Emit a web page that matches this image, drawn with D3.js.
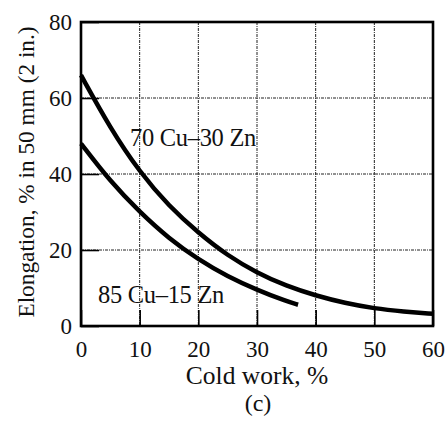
<!DOCTYPE html>
<html>
<head>
<meta charset="utf-8">
<script src="https://cdn.jsdelivr.net/npm/d3@7"></script>
<style>
  body { margin: 0; background: #fff; }
  text { font-family: "Liberation Serif", "DejaVu Serif", serif; fill: #111; }
</style>
</head>
<body>
<svg width="447" height="421"></svg>
<script>
// data
var coldWork = [0, 5, 10, 15, 20, 25, 30, 35, 40, 45, 50, 55, 60];
var brass7030 = [66, 52, 40.5, 31.5, 24.5, 18.5, 14, 10.5, 8, 6, 4.6, 3.8, 3.2];
var coldWork8515 = [0, 5, 10, 15, 20, 25, 30, 35, 37];
var brass8515 = [48, 38, 30, 23, 17.5, 13, 9.5, 6.5, 5.6];
var xTicks = [0, 10, 20, 30, 40, 50, 60];
var yTicks = [0, 20, 40, 60, 80];

var svg = d3.select("svg");
var margin = {left: 81, right: 14, top: 22, bottom: 95};
var width = 447 - margin.left - margin.right,
  height = 421 - margin.top - margin.bottom;

var x = d3.scaleLinear().domain([0, 60]).range([0, width]);
var y = d3.scaleLinear().domain([0, 80]).range([height, 0]);

var g = svg.append("g").attr("transform", "translate(" + margin.left + "," + margin.top + ")");

// dotted grid
g.selectAll(".vgrid").data(xTicks.slice(1, -1)).enter().append("line")
  .attr("x1", d => x(d)).attr("x2", d => x(d))
  .attr("y1", 0).attr("y2", height)
  .attr("stroke", "#222").attr("stroke-width", 1)
  .attr("stroke-dasharray", "3,1,1,1");
g.selectAll(".hgrid").data(yTicks.slice(1, -1)).enter().append("line")
  .attr("x1", 0).attr("x2", width)
  .attr("y1", d => y(d)).attr("y2", d => y(d))
  .attr("stroke", "#222").attr("stroke-width", 1)
  .attr("stroke-dasharray", "3,1,1,1");

// inward ticks
g.append("g").attr("transform", "translate(0," + height + ")")
  .call(d3.axisBottom(x).tickValues(xTicks).tickSize(-16).tickPadding(15).tickFormat(d3.format("d")))
  .call(a => a.select(".domain").remove())
  .call(a => a.selectAll("line").attr("stroke", "#000").attr("stroke-width", 1.6))
  .call(a => a.selectAll("text").attr("font-size", 23).attr("font-family", "Liberation Serif").attr("fill", "#111"));

g.append("g")
  .call(d3.axisLeft(y).tickValues(yTicks).tickSize(-18).tickPadding(9).tickFormat(d3.format("d")))
  .call(a => a.select(".domain").remove())
  .call(a => a.selectAll("line").attr("stroke", "#000").attr("stroke-width", 1.6))
  .call(a => a.selectAll("text").attr("font-size", 23).attr("font-family", "Liberation Serif").attr("fill", "#111"));

// frame
g.append("rect").attr("width", width).attr("height", height)
  .attr("fill", "none").attr("stroke", "#000").attr("stroke-width", 2.6);

// curves
var line = d3.line().x(d => x(d[0])).y(d => y(d[1])).curve(d3.curveBasis);
g.append("path").datum(d3.zip(coldWork, brass7030))
  .attr("d", line).attr("fill", "none").attr("stroke", "#000").attr("stroke-width", 4.5);
g.append("path").datum(d3.zip(coldWork8515, brass8515))
  .attr("d", line).attr("fill", "none").attr("stroke", "#000").attr("stroke-width", 4.5);

// labels
g.append("text").attr("x", 49).attr("y", 124).attr("font-size", 24.5)
  .attr("letter-spacing", -0.3).text("70 Cu\u201330 Zn");
g.append("text").attr("x", 17).attr("y", 281).attr("font-size", 24.5)
  .attr("letter-spacing", -0.3).text("85 Cu\u201315 Zn");

svg.append("text").attr("x", 257).attr("y", 384)
  .attr("text-anchor", "middle").attr("font-size", 25.5).text("Cold work, %");
svg.append("text").attr("x", 258).attr("y", 411)
  .attr("text-anchor", "middle").attr("font-size", 24).text("(c)");
svg.append("text").attr("transform", "translate(34,172) rotate(-90)")
  .attr("text-anchor", "middle").attr("font-size", 23.3).text("Elongation, % in 50 mm (2 in.)");
</script>
</body>
</html>
